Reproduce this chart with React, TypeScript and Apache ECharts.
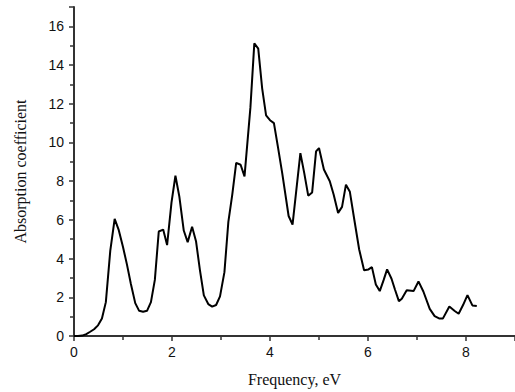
import React, { useEffect, useRef } from "react";
import * as echarts from "echarts";

const frequency: number[] = [
  0, 0.08, 0.17, 0.25, 0.33, 0.41, 0.49, 0.57, 0.65, 0.74, 0.83, 0.91, 1.0, 1.08, 1.16, 1.25, 1.33, 1.41, 1.49,
  1.57, 1.65, 1.73, 1.82, 1.9, 1.99, 2.07, 2.15, 2.24, 2.32, 2.41, 2.49, 2.57, 2.65, 2.74, 2.82, 2.9, 2.98, 3.07,
  3.15, 3.23, 3.31, 3.4, 3.48, 3.6, 3.68, 3.76, 3.84, 3.92, 4.0, 4.08, 4.16, 4.25, 4.38, 4.46, 4.54, 4.62, 4.7,
  4.78, 4.86, 4.94, 5.0, 5.1, 5.22, 5.3, 5.39, 5.47, 5.55, 5.63, 5.72, 5.82, 5.92, 6.01, 6.08, 6.16, 6.24, 6.32,
  6.39, 6.48, 6.55, 6.63, 6.69, 6.79, 6.93, 7.03, 7.13, 7.26, 7.36, 7.46, 7.53, 7.66, 7.77, 7.85, 7.94, 8.03,
  8.13, 8.22,
];
const absorption: number[] = [
  0, 0, 0.02, 0.1, 0.22, 0.35, 0.55, 0.9, 1.75, 4.4, 6.05, 5.5, 4.6, 3.7, 2.7, 1.7, 1.3, 1.25, 1.3, 1.75, 2.9,
  5.4, 5.5, 4.7, 6.9, 8.28, 7.2, 5.45, 4.85, 5.65, 4.9, 3.4, 2.1, 1.65, 1.52, 1.6, 2.05, 3.3, 5.9, 7.3, 8.95,
  8.85, 8.25, 11.8, 15.12, 14.85, 12.8, 11.4, 11.15, 11.0, 9.8, 8.4, 6.2, 5.76, 7.6, 9.45, 8.4, 7.25, 7.42, 9.54,
  9.71, 8.6, 8.0, 7.3, 6.36, 6.67, 7.82, 7.45, 6.02, 4.47, 3.4, 3.44, 3.56, 2.66, 2.32, 2.9, 3.44, 2.96, 2.4,
  1.8, 1.93, 2.36, 2.32, 2.82, 2.3, 1.4, 1.03, 0.9, 0.91, 1.52, 1.29, 1.15, 1.6, 2.11, 1.58, 1.55,
];

const xTitle = "Frequency, eV";
const yTitle = "Absorption coefficient";

export default function App() {
  const ref = useRef<HTMLDivElement>(null);
  useEffect(() => {
    if (!ref.current) return;
    const chart = echarts.init(ref.current, undefined, { renderer: "svg" });
    const points = frequency.map((f, i) => [f, absorption[i]]);
    const axisColor = "#333";
    chart.setOption({
      animation: false,
      backgroundColor: "#fff",
      grid: { left: 74, right: -6, top: 7, bottom: 55 },
      xAxis: {
        type: "value",
        min: 0,
        max: 9,
        interval: 2,
        name: xTitle,
        nameLocation: "middle",
        nameGap: 35,
        nameTextStyle: { fontFamily: "Liberation Serif", fontSize: 16, color: "#111" },
        axisLine: { show: true, lineStyle: { color: axisColor, width: 2 } },
        axisTick: { show: true, length: 5, lineStyle: { color: axisColor, width: 1.5 } },
        minorTick: { show: true, splitNumber: 2, length: 4, lineStyle: { color: axisColor, width: 1.5 } },
        splitLine: { show: false },
        axisLabel: {
          margin: 9,
          fontFamily: "Liberation Sans",
          fontSize: 14,
          color: "#111",
          showMaxLabel: false,
        },
      },
      yAxis: {
        type: "value",
        min: 0,
        max: 17,
        interval: 2,
        name: yTitle,
        nameLocation: "middle",
        nameGap: 46,
        nameTextStyle: { fontFamily: "Liberation Serif", fontSize: 16, color: "#111" },
        axisLine: { show: true, lineStyle: { color: axisColor, width: 2 } },
        axisTick: { show: true, length: 5, lineStyle: { color: axisColor, width: 1.5 } },
        minorTick: { show: true, splitNumber: 2, length: 4, lineStyle: { color: axisColor, width: 1.5 } },
        splitLine: { show: false },
        axisLabel: {
          margin: 10,
          fontFamily: "Liberation Sans",
          fontSize: 14,
          color: "#111",
          showMaxLabel: false,
        },
      },
      series: [
        {
          type: "line",
          data: points,
          showSymbol: false,
          symbol: "none",
          lineStyle: { color: "#000", width: 2 },
          clip: false,
        },
      ],
    });
    return () => chart.dispose();
  }, []);
  return <div ref={ref} style={{ width: 515, height: 392, position: "absolute", left: 0, top: 0 }} />;
}
